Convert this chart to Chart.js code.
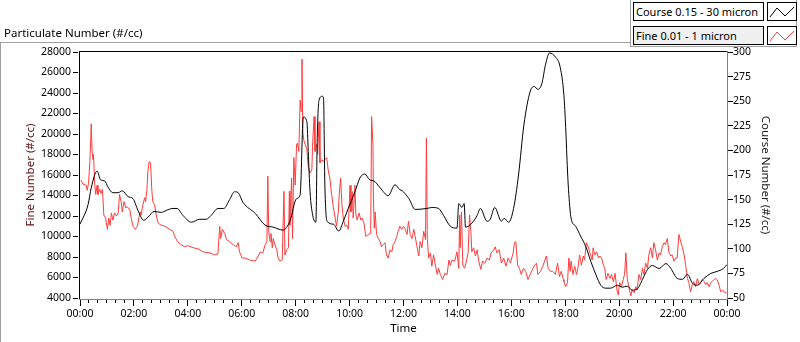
<!DOCTYPE html>
<html>
<head>
<meta charset="utf-8">
<script src="https://cdn.jsdelivr.net/npm/chart.js@4.4.0/dist/chart.umd.min.js"></script>
<style>
body { margin: 0; background: #fff; font-family: 'Noto Sans', sans-serif; }
#wrap { position: relative; width: 800px; height: 342px; }
#chart { position: absolute; left: 0; top: 0; }
#title { position: absolute; left: 4px; top: 25px; font-size: 11.5px; color: #000; white-space: nowrap; }
#legend { position: absolute; left: 630px; top: 0; width: 167px; height: 47px; background: #fff;
  border-left: 1px solid #a0a0a0; border-right: 1px solid #a0a0a0; border-bottom: 1px solid #a0a0a0; box-sizing: border-box; }
.lab { position: absolute; left: 2px; width: 131px; height: 19px; border: 1px solid #000; box-sizing: border-box;
  font-size: 11px; line-height: 17px; padding-left: 2px; white-space: nowrap; color: #000; }
.ico { position: absolute; left: 136px; width: 30px; height: 19px; border: 1px solid #000; box-sizing: border-box; background: #fff; }
</style>
</head>
<body>
<div id="wrap">
  <canvas id="chart" width="800" height="342"></canvas>
  <div id="title">Particulate Number (#/cc)</div>
  <div id="legend">
    <div class="lab" style="top:2px;background:#fff;">Course 0.15 - 30 micron</div>
    <div class="ico" style="top:2px;"><svg width="28" height="17"><polyline points="2,14 9,5 17,13 26,4" fill="none" stroke="#000" stroke-width="1"/></svg></div>
    <div class="lab" style="top:26px;background:#f0f0f0;">Fine 0.01 - 1 micron</div>
    <div class="ico" style="top:26px;"><svg width="28" height="17"><polyline points="2,14 9,5 17,13 26,4" fill="none" stroke="#ff3c3c" stroke-width="1"/></svg></div>
  </div>
</div>
<script>
// time of day in minutes
const timeLabels = ['00:00', '02:00', '04:00', '06:00', '08:00', '10:00', '12:00', '14:00', '16:00', '18:00', '20:00', '22:00', '00:00'];

const fineTime = [
  2, 7, 14, 16, 19, 22, 24, 25, 27, 29,
  30, 33, 35, 38, 40, 44, 47, 50, 53, 57,
  61, 64, 67, 70, 73, 77, 81, 85, 88, 92,
  94, 98, 102, 105, 111, 114, 118, 123, 128, 131,
  134, 136, 140, 144, 146, 149, 151, 154, 157, 160,
  162, 166, 170, 174, 181, 189, 196, 207, 211, 217,
  225, 233, 240, 252, 263, 274, 289, 300, 307, 311,
  313, 317, 322, 326, 333, 341, 348, 352, 355, 361,
  367, 378, 390, 397, 401, 407, 412, 416, 418, 420,
  423, 425, 428, 430, 434, 438, 441, 445, 450, 454,
  456, 460, 464, 466, 467, 471, 473, 476, 479, 482,
  484, 487, 490, 492, 494, 496, 498, 501, 505, 508,
  512, 516, 518, 521, 523, 527, 529, 532, 534, 538,
  542, 545, 549, 553, 556, 560, 564, 568, 571, 575,
  577, 580, 583, 586, 590, 594, 597, 601, 603, 606,
  608, 612, 614, 617, 621, 625, 628, 632, 636, 642,
  647, 649, 652, 653, 655, 657, 660, 664, 668, 671,
  675, 679, 682, 686, 690, 694, 697, 701, 705, 708,
  712, 716, 720, 724, 728, 731, 735, 739, 743, 746,
  750, 754, 757, 761, 765, 769, 771, 773, 776, 780,
  783, 787, 791, 795, 798, 802, 807, 812, 817, 821,
  824, 828, 834, 839, 843, 845, 846, 849, 852, 856,
  860, 864, 867, 870, 872, 876, 880, 884, 887, 892,
  896, 901, 906, 911, 915, 921, 924, 928, 933, 938,
  943, 948, 953, 958, 964, 967, 970, 974, 978, 982,
  987, 992, 997, 1002, 1008, 1012, 1016, 1019, 1025, 1030,
  1034, 1038, 1042, 1047, 1052, 1058, 1063, 1067, 1071, 1076,
  1077, 1081, 1085, 1088, 1091, 1093, 1097, 1101, 1105, 1108,
  1112, 1116, 1120, 1123, 1127, 1131, 1135, 1140, 1142, 1146,
  1150, 1154, 1157, 1161, 1165, 1168, 1171, 1175, 1180, 1183,
  1187, 1191, 1195, 1198, 1201, 1205, 1209, 1212, 1215, 1218,
  1222, 1226, 1229, 1233, 1237, 1240, 1244, 1248, 1252, 1255,
  1259, 1263, 1266, 1270, 1274, 1277, 1281, 1285, 1289, 1292,
  1296, 1300, 1303, 1307, 1311, 1315, 1318, 1322, 1326, 1329,
  1333, 1337, 1341, 1345, 1348, 1352, 1355, 1359, 1363, 1366,
  1370, 1374, 1378, 1381, 1385, 1389, 1393, 1396, 1400, 1404,
  1407, 1411, 1415, 1418, 1422, 1426, 1430, 1433, 1439
];
const fineValue = [
  15500, 15100, 15000, 14500, 15200, 17300, 19600, 21000, 18300, 17500,
  18000, 15000, 14100, 15000, 14100, 14600, 14200, 14600, 12100, 11800,
  10700, 11800, 11100, 12300, 11600, 12300, 12000, 12300, 14100, 13300,
  12400, 13400, 12800, 12900, 12600, 11800, 11000, 10700, 11000, 11800,
  12400, 12100, 13100, 13800, 13400, 14600, 16300, 17300, 17200, 14400,
  13400, 13100, 12000, 11300, 11100, 11000, 10800, 10500, 10000, 9500,
  9200, 9000, 9100, 8900, 8800, 8500, 8400, 8200, 8300, 11000,
  9800, 10700, 10300, 9700, 9500, 9200, 9000, 9400, 8500, 7900,
  7900, 7700, 7600, 8100, 8500, 8400, 9200, 9500, 15900, 10500,
  9500, 10300, 8900, 9800, 9200, 8700, 7900, 7600, 7700, 14400,
  8200, 8700, 8900, 14400, 11100, 15700, 9800, 17700, 15000, 19000,
  19100, 18300, 23300, 22200, 27300, 20200, 19400, 19000, 18500, 16800,
  16200, 16500, 19300, 21700, 18300, 19000, 18000, 21200, 17200, 17500,
  17300, 17500, 17700, 16300, 15700, 14100, 12800, 11800, 11000, 12400,
  14100, 15700, 13100, 11800, 11000, 11100, 10700, 15000, 12400, 14400,
  11800, 15000, 12100, 11600, 12300, 11600, 11800, 11300, 10000, 10200,
  10300, 21700, 19000, 13800, 10800, 12400, 10200, 9800, 9500, 9000,
  9200, 9400, 8200, 7900, 8700, 8500, 9200, 9500, 10000, 10500,
  11000, 10700, 11000, 10700, 10200, 11500, 10200, 9800, 10700, 10000,
  9000, 8100, 9500, 8900, 10500, 9700, 19600, 9800, 7900, 8400,
  7100, 8200, 7200, 6300, 6900, 6300, 5800, 6400, 6300, 7700,
  7200, 7700, 7600, 8500, 6900, 12100, 8900, 12400, 7200, 6900,
  7600, 8500, 12100, 10500, 8500, 8900, 8100, 8700, 7700, 6800,
  7600, 7400, 7900, 7700, 8400, 8700, 9000, 8400, 8700, 7400,
  7900, 7100, 7900, 7400, 8400, 9400, 9500, 7200, 6900, 6300,
  6900, 6600, 5800, 6300, 6900, 7200, 7400, 6300, 6600, 7100,
  7600, 8100, 6900, 6600, 6600, 6300, 7400, 6100, 6600, 5800,
  5600, 5100, 5500, 7900, 6600, 7600, 6300, 7100, 6300, 6900,
  8200, 7200, 8100, 7700, 9400, 9000, 8400, 7700, 8900, 8200,
  8500, 7900, 8100, 7900, 7200, 6900, 5800, 6400, 5900, 6300,
  5600, 6400, 4800, 4300, 5500, 5100, 5800, 6300, 8400, 5900,
  5000, 4200, 4800, 4500, 5100, 4800, 6300, 5800, 6900, 6300,
  7400, 6900, 8200, 8900, 7900, 9400, 8700, 7700, 8400, 8200,
  9000, 9400, 9200, 9800, 8400, 8100, 8200, 7600, 7900, 7900,
  10200, 9500, 8900, 8100, 7200, 5900, 5500, 4600, 5300, 5600,
  5100, 5900, 5300, 5500, 5800, 5600, 5300, 5500, 5100, 5500,
  5600, 5800, 5900, 5800, 5300, 4600, 4800, 4600, 4500
];

const courseTime = [
  0, 18, 25, 38, 46, 55, 62, 73, 85, 94,
  107, 118, 129, 142, 151, 165, 181, 192, 207, 216,
  229, 248, 266, 281, 292, 307, 320, 333, 344, 352,
  363, 390, 412, 430, 452, 467, 482, 490, 497, 505,
  508, 512, 518, 525, 528, 532, 539, 542, 545, 550,
  564, 576, 586, 597, 612, 623, 634, 645, 654, 668,
  686, 701, 712, 717, 732, 746, 772, 783, 798, 809,
  824, 839, 843, 850, 855, 858, 872, 884, 891, 906,
  913, 923, 938, 944, 954, 965, 976, 988, 1002, 1011,
  1019, 1028, 1036, 1045, 1058, 1069, 1077, 1081, 1085, 1088,
  1093, 1103, 1114, 1126, 1137, 1148, 1159, 1170, 1181, 1196,
  1207, 1218, 1229, 1240, 1252, 1263, 1274, 1289, 1304, 1315,
  1329, 1341, 1352, 1363, 1374, 1389, 1404, 1418, 1432, 1440
];
const courseValue = [
  125, 145, 162, 179, 170, 169, 163, 157, 157, 159,
  153, 151, 139, 129, 132, 138, 137, 139, 141, 141,
  134, 127, 130, 130, 134, 141, 141, 150, 158, 157,
  147, 136, 124, 122, 119, 128, 151, 155, 234, 229,
  199, 158, 134, 127, 212, 251, 255, 253, 165, 128,
  125, 118, 128, 141, 158, 172, 176, 170, 169, 162,
  154, 165, 160, 159, 151, 140, 141, 142, 141, 134,
  123, 121, 146, 142, 146, 122, 126, 134, 141, 128,
  130, 142, 128, 131, 127, 141, 175, 226, 260, 265,
  262, 268, 287, 299, 295, 284, 256, 223, 179, 155,
  131, 123, 113, 102, 87, 74, 63, 60, 60, 63,
  61, 62, 58, 59, 69, 79, 83, 80, 85, 80,
  70, 69, 74, 65, 63, 70, 75, 77, 80, 84
];

const fineTicks = { min: 4000, max: 28000, step: 2000 };
const courseTicks = { min: 50, max: 300, step: 25 };

const font = { family: 'Noto Sans', size: 10.5 };
const titleFont = { family: 'Noto Sans', size: 11.5 };

// frame lines and LabVIEW-style tick dashes
const frame = {
  id: 'frame',
  beforeDraw(chart) {
    const ctx = chart.ctx;
    ctx.save();
    ctx.fillStyle = '#a0a0a0';
    ctx.fillRect(0, 42, 632, 1);
    ctx.fillRect(0, 42, 1, 300);
    ctx.restore();
  },
  afterDraw(chart) {
    const { ctx, chartArea: a, scales } = chart;
    ctx.save();
    ctx.fillStyle = '#000';
    ctx.fillRect(a.left - 1, a.top - 1, a.right - a.left + 1, 1);
    ctx.fillRect(a.left - 1, a.top - 1, 1, a.bottom - a.top + 2);
    ctx.fillStyle = '#808080';
    ctx.fillRect(a.left - 1, a.bottom + 1, a.right - a.left + 1, 1);
    ctx.fillRect(a.right, a.top - 1, 1, a.bottom - a.top + 3);
    ctx.fillStyle = '#000';
    scales.y.ticks.forEach(t => {
      ctx.fillRect(a.left - 7, Math.floor(scales.y.getPixelForValue(t.value)), 5, 1);
    });
    scales.y2.ticks.forEach(t => {
      ctx.fillRect(a.right + 1, Math.floor(scales.y2.getPixelForValue(t.value)), 5, 1);
    });
    for (let m = 0; m <= 1440; m += 20) {
      const x = Math.floor(scales.x.getPixelForValue(m));
      ctx.fillRect(x, a.bottom + 2, 1, m % 120 === 0 ? 6 : 3);
    }
    ctx.restore();
  }
};

new Chart(document.getElementById('chart'), {
  type: 'line',
  data: {
    datasets: [{
      label: 'Course 0.15 - 30 micron',
      data: courseTime.map((t, i) => ({ x: t, y: courseValue[i] })),
      yAxisID: 'y2',
      borderColor: '#000',
      borderWidth: 1,
      pointRadius: 0,
      cubicInterpolationMode: 'monotone'
    }, {
      label: 'Fine 0.01 - 1 micron',
      data: fineTime.map((t, i) => ({ x: t, y: fineValue[i] })),
      yAxisID: 'y',
      borderColor: '#ff3c3c',
      borderWidth: 1,
      pointRadius: 0,
      tension: 0
    }]
  },
  options: {
    responsive: false,
    animation: false,
    devicePixelRatio: 1,
    layout: { padding: { top: 52, left: 0, right: 0, bottom: 0 } },
    plugins: { legend: { display: false }, tooltip: { enabled: false } },
    scales: {
      x: {
        type: 'linear', min: 0, max: 1440,
        afterFit: s => { s.height = 44; },
        grid: { display: false, drawTicks: false },
        border: { display: false },
        ticks: {
          stepSize: 120, autoSkip: false, maxRotation: 0, padding: 10,
          color: '#000', font: font,
          callback: v => timeLabels[v / 120]
        },
        title: { display: true, text: 'Time', color: '#000', font: titleFont, padding: { top: 0, bottom: 6 } }
      },
      y: {
        position: 'left', min: fineTicks.min, max: fineTicks.max,
        afterFit: s => { s.width = 80; },
        grid: { display: false, drawTicks: false },
        border: { display: false },
        ticks: { stepSize: fineTicks.step, padding: 9, color: '#000', font: font, callback: v => String(v) },
        title: { display: true, text: 'Fine Number (#/cc)', color: '#5c1010', font: titleFont, padding: { top: 24, bottom: 0 } }
      },
      y2: {
        position: 'right', min: courseTicks.min, max: courseTicks.max,
        afterFit: s => { s.width = 73; },
        grid: { display: false, drawTicks: false },
        border: { display: false },
        ticks: { stepSize: courseTicks.step, padding: 6, color: '#000', font: font, callback: v => String(v) },
        title: { display: true, text: 'Course Number (#/cc)', color: '#1a1a1a', font: titleFont, padding: { top: 28, bottom: 0 } }
      }
    }
  },
  plugins: [frame]
});
</script>
</body>
</html>
